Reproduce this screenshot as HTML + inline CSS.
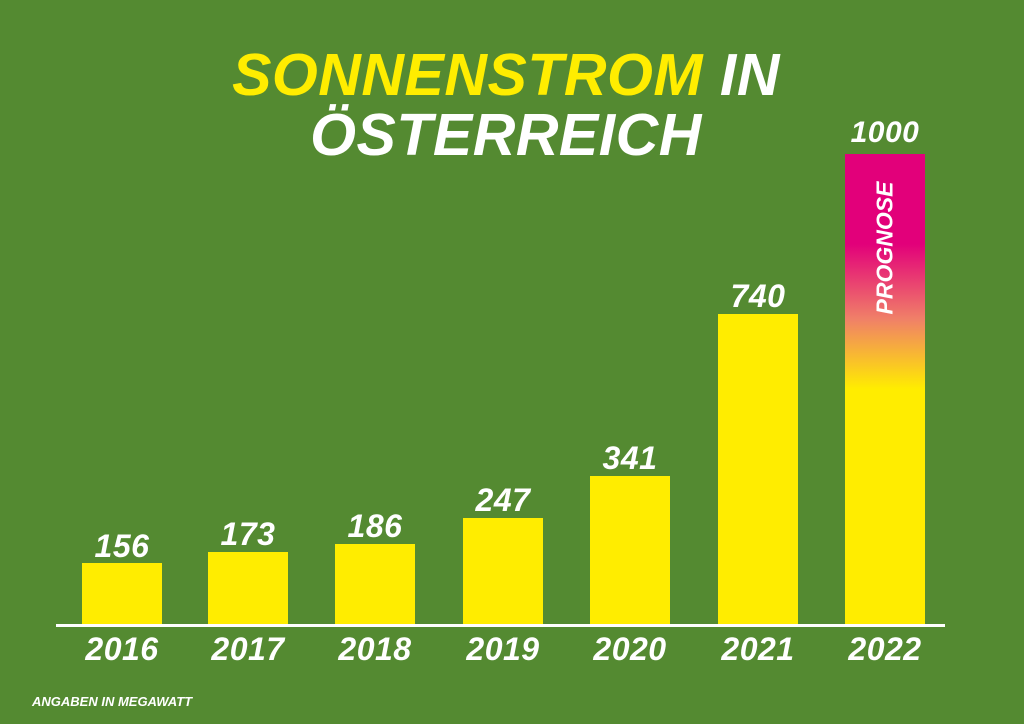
<!DOCTYPE html>
<html><head><meta charset="utf-8"><style>
body{margin:0;width:1024px;height:724px;background:#548a31;position:relative;overflow:hidden;font-family:"Liberation Sans",sans-serif;font-weight:bold;font-style:italic;color:#fff}
.t{position:absolute;white-space:nowrap;line-height:1}
.bar{position:absolute;width:80px;background:#ffed00;bottom:99px}
.v{position:absolute;width:120px;text-align:center;font-size:32px;line-height:1;letter-spacing:0.5px}
.y{position:absolute;top:633px;width:120px;text-align:center;font-size:32px;line-height:1;letter-spacing:0.5px}
</style></head><body>
<div class="t" style="left:206px;top:46px;font-size:59px;letter-spacing:0.5px;width:600px;text-align:center"><span style="color:#ffed00">SONNENSTROM</span> IN</div>
<div class="t" style="left:206px;top:106px;font-size:59px;letter-spacing:0.5px;width:600px;text-align:center">ÖSTERREICH</div>

<div class="bar" style="left:82px;top:563px"></div>
<div class="bar" style="left:208px;top:552px"></div>
<div class="bar" style="left:335px;top:544px"></div>
<div class="bar" style="left:463px;top:518px"></div>
<div class="bar" style="left:590px;top:476px"></div>
<div class="bar" style="left:718px;top:314px"></div>
<div class="bar" style="left:845px;top:154px;background:linear-gradient(to bottom,#e2007a 0px,#e2007a 90px,#f08068 165px,#ffed00 235px,#ffed00 471px)"></div>
<div class="t" style="left:885px;top:248px;font-size:23px;transform:translate(-50%,-50%) rotate(-90deg);letter-spacing:0px">PROGNOSE</div>

<div class="v" style="left:62px;top:530px">156</div>
<div class="v" style="left:188px;top:518px">173</div>
<div class="v" style="left:315px;top:510px">186</div>
<div class="v" style="left:443px;top:484px">247</div>
<div class="v" style="left:570px;top:442px">341</div>
<div class="v" style="left:698px;top:280px">740</div>
<div class="v" style="left:825px;top:118px;font-size:30px">1000</div>

<div style="position:absolute;left:56px;top:624px;width:889px;height:3px;background:#fff"></div>

<div class="y" style="left:62px">2016</div>
<div class="y" style="left:188px">2017</div>
<div class="y" style="left:315px">2018</div>
<div class="y" style="left:443px">2019</div>
<div class="y" style="left:570px">2020</div>
<div class="y" style="left:698px">2021</div>
<div class="y" style="left:825px">2022</div>

<div class="t" style="left:32px;top:695px;font-size:13px;letter-spacing:0px">ANGABEN IN MEGAWATT</div>
</body></html>
